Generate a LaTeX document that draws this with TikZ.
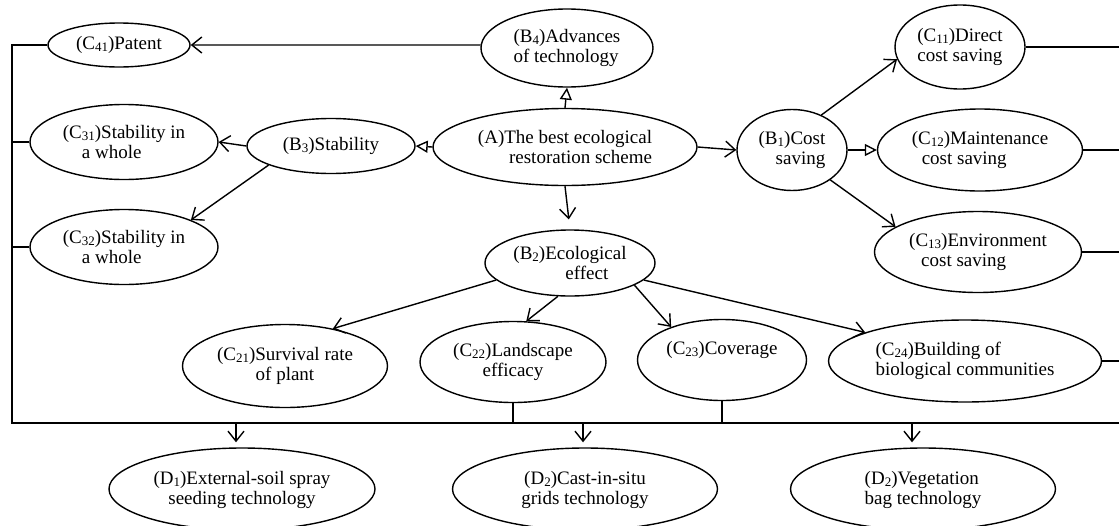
\documentclass[tikz,border=0pt]{standalone}
\usepackage{fontspec}
\setmainfont{Liberation Serif}
\usetikzlibrary{arrows.meta,shapes.geometric}
\newcommand\sbs[1]{\raisebox{-0.2ex}{\fontsize{13}{13}\selectfont #1}}
\begin{document}
\begin{tikzpicture}[x=1pt,y=-1pt,
  ell/.style={ellipse,draw,line width=1.4pt,inner sep=0pt},
  txt/.style={font=\fontsize{19}{20}\selectfont,inner sep=0pt},
  barb/.style={line width=1.4pt,-{Straight Barb[length=10pt,width=16pt,line width=1.4pt]}},
  tri/.style={line width=1.4pt,-{Triangle[open,length=12pt,width=12pt,line width=1.4pt]}},
  ln/.style={line width=1.4pt,line join=miter}]
\useasboundingbox (0,0) rectangle (1119,525);
% ellipses
\node[ell,minimum width=142pt,minimum height=44pt] (C41) at (119,45) {};
\node[ell,minimum width=172pt,minimum height=78pt] (B4) at (567,48) {};
\node[ell,minimum width=130pt,minimum height=84pt] (C11) at (960,47) {};
\node[ell,minimum width=188pt,minimum height=75pt] (C31) at (124,142) {};
\node[ell,minimum width=168pt,minimum height=55pt] (B3) at (331,146) {};
\node[ell,minimum width=264pt,minimum height=77pt] (A) at (565,147) {};
\node[ell,minimum width=110pt,minimum height=81pt] (B1) at (792,150) {};
\node[ell,minimum width=205pt,minimum height=82pt] (C12) at (980,150) {};
\node[ell,minimum width=188pt,minimum height=75pt] (C32) at (124,247) {};
\node[ell,minimum width=170pt,minimum height=66pt] (B2) at (570,263) {};
\node[ell,minimum width=207pt,minimum height=81pt] (C13) at (978,252) {};
\node[ell,minimum width=205pt,minimum height=83pt] (C21) at (285,366) {};
\node[ell,minimum width=186pt,minimum height=81pt] (C22) at (513,362) {};
\node[ell,minimum width=169pt,minimum height=81pt] (C23) at (722,360) {};
\node[ell,minimum width=273pt,minimum height=82pt] (C24) at (965,361) {};
\node[ell,minimum width=266pt,minimum height=82pt] (D1) at (242,489) {};
\node[ell,minimum width=265pt,minimum height=82pt] (D2) at (585,489) {};
\node[ell,minimum width=265pt,minimum height=82pt] (D3) at (923,489) {};
% texts
\node[txt] (tC41) at (C41) {(C\sbs{41})Patent};
\node[txt,align=left] (tB4) at (B4) {(B\sbs{4})Advances\\of technology};
\node[txt,align=left] (tC11) at (C11) {(C\sbs{11})Direct\\cost saving};
\node[txt,align=left] (tC31) at (C31) {(C\sbs{31})Stability in\\\hspace*{19pt}a whole};
\node[txt] (tB3) at (B3) {(B\sbs{3})Stability};
\node[txt,align=right] (tA) at (A) {(A)The best ecological\\restoration scheme};
\node[txt,align=right] (tB1) at (B1) {(B\sbs{1})Cost\\saving};
\node[txt,align=left] (tC12) at (C12) {(C\sbs{12})Maintenance\\\hspace*{10pt}cost saving};
\node[txt,align=left] (tC32) at (C32) {(C\sbs{32})Stability in\\\hspace*{19pt}a whole};
\node[txt,align=left] (tB2) at (B2) {(B\sbs{2})Ecological\\\hspace*{52pt}effect};
\node[txt,align=left] (tC13) at (C13) {(C\sbs{13})Environment\\\hspace*{12pt}cost saving};
\node[txt,align=center] (tC21) at (C21) {(C\sbs{21})Survival rate\\of plant};
\node[txt,align=center] (tC22) at (C22) {(C\sbs{22})Landscape\\efficacy};
\node[txt] (tC23) at ([yshift=10pt]C23.center) {(C\sbs{23})Coverage};
\node[txt,align=left] (tC24) at (C24) {(C\sbs{24})Building of\\biological communities};
\node[txt,align=center] (tD1) at ([yshift=-1pt]D1.center) {(D\sbs{1})External-soil spray\\seeding technology};
\node[txt,align=center] (tD2) at ([yshift=-1pt]D2.center) {(D\sbs{2})Cast-in-situ\\grids technology};
\node[txt,align=left] (tD3) at ([yshift=-1pt]D3.center) {(D\sbs{2})Vegetation\\bag technology};
% connectors
\draw[barb] (B4.178) -- (C41.east);
\draw[tri] (A.west) -- (B3.east);
\draw[tri] (A.north) -- (B4.south);
\draw[barb] (A.east) -- (B1.west);
\draw[barb,shorten >=10pt] (A.south) -- (B2.north);
\draw[barb] (B3.west) -- (C31.east);
\draw[barb] (B3.197) -- (C32.22);
\draw[barb] (B1.50) -- (C11.191);
\draw[tri] (B1.east) -- (C12.west);
\draw[barb] (B1.-38) -- (C13.163);
\draw[barb] (B2.193) -- (C21.38);
\draw[barb] (B2.250) -- (C22.72);
\draw[barb] (B2.-19) -- (C23.147);
\draw[barb] (B2.-13) -- (C24.164);
% bus lines
\coordinate (LB) at (12,423);
\coordinate (RB) at (1119,423);
\draw[ln] (C41.west) -- (C41.west -| LB) -- (LB) -- (RB);
\draw[ln] (C31.west) -- (C31.west -| LB);
\draw[ln] (C32.west) -- (C32.west -| LB);
\draw[ln] (C11.east) -- (C11.east -| RB);
\draw[ln] (C12.east) -- (C12.east -| RB);
\draw[ln] (C13.east) -- (C13.east -| RB);
\draw[ln] (C24.east) -- (C24.east -| RB);
\draw[ln] (C22.south) -- (C22.south |- LB);
\draw[ln] (C23.south) -- (C23.south |- LB);
\coordinate (d1) at (236,423);
\coordinate (d2) at (583,423);
\coordinate (d3) at (912,423);
\draw[barb,shorten >=5pt] (d1) -- (d1 |- D1.north);
\draw[barb,shorten >=5pt] (d2) -- (d2 |- D2.north);
\draw[barb,shorten >=5pt] (d3) -- (d3 |- D3.north);
\end{tikzpicture}
\end{document}
